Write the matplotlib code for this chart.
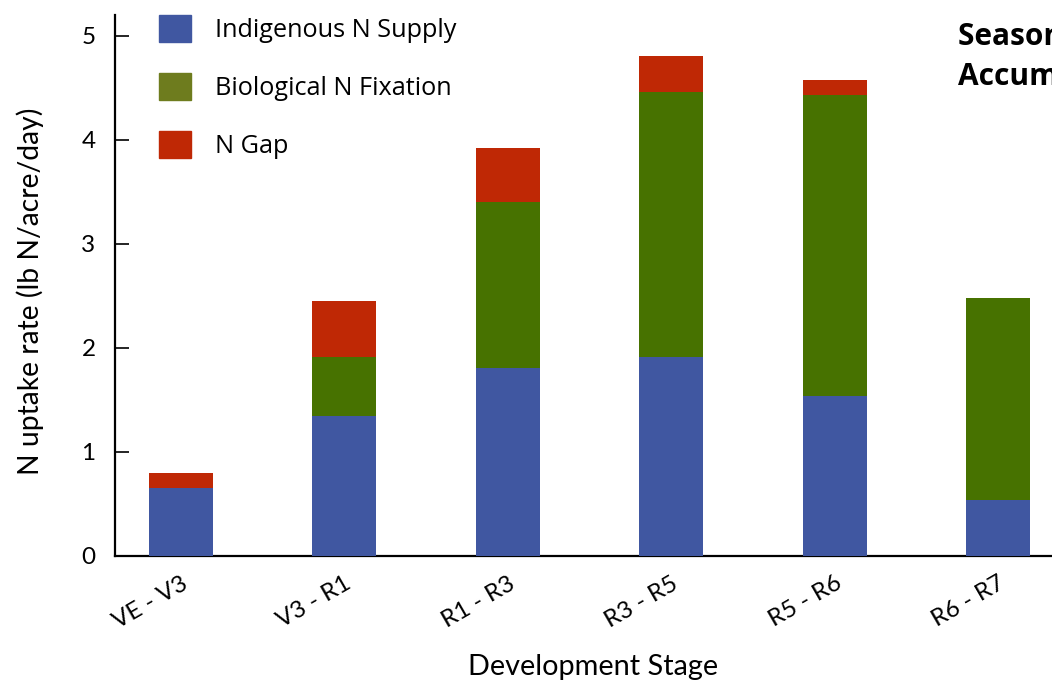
import matplotlib
matplotlib.use("Agg")
import matplotlib.pyplot as plt
from matplotlib.patches import Patch
import numpy as np

# stages and N uptake rate components (lb N/acre/day)
stages = ["VE - V3", "V3 - R1", "R1 - R3", "R3 - R5", "R5 - R6", "R6 - R7"]
indigenous = [0.65, 1.35, 1.81, 1.91, 1.54, 0.54]
fixation = [0.0, 0.56, 1.59, 2.55, 2.89, 1.94]
n_gap = [0.15, 0.54, 0.52, 0.35, 0.15, 0.0]
legend_labels = ["Indigenous N Supply", "Biological N Fixation", "N Gap"]
note_lines = ["Seasonal N", "Accumulation"]

blue = "#4057a1"
green = "#477200"
olive = "#6e7c1e"
red = "#bf2805"

plt.rcParams["font.family"] = ["Lato", "DejaVu Sans"]

fig = plt.figure(figsize=(10.52, 6.83), dpi=100)
ax = fig.add_axes([115 / 1052, 127 / 683, 1 - 115 / 1052, 541 / 683])

x = np.arange(len(stages))
w = 0.392
bottom2 = np.array(indigenous) + np.array(fixation)
ax.bar(x, indigenous, w, color=blue, zorder=1)
ax.bar(x, fixation, w, bottom=indigenous, color=green, zorder=1)
ax.bar(x, n_gap, w, bottom=bottom2, color=red, zorder=1)

ax.set_xlim(-0.404, 5.33)
ax.set_ylim(0, 5.2)
ax.set_yticks([0, 1, 2, 3, 4, 5])
ax.set_xticks(x)
ax.set_xticklabels(stages, rotation=30, ha="right", va="top", rotation_mode="anchor")

for s in ["top", "right"]:
    ax.spines[s].set_visible(False)
for s in ["left", "bottom"]:
    ax.spines[s].set_linewidth(1.6)
    ax.spines[s].set_zorder(0)
ax.tick_params(axis="y", direction="in", length=10, width=1.2, pad=14, labelsize=17.5)
ax.tick_params(axis="x", length=0, pad=12, labelsize=17.5)

fig.text(30 / 1052, 1 - 291 / 683, "N uptake rate (lb N/acre/day)", rotation=90,
         ha="center", va="center", fontsize=20.3)
fig.text(593 / 1052, 1 - 667 / 683, "Development Stage", ha="center", va="center", fontsize=20.8)

handles = [Patch(color=c) for c in (blue, olive, red)]
ax.legend(handles, legend_labels, loc="upper left", bbox_to_anchor=(44 / 937, 1.0),
          frameon=False, handlelength=1.27, handleheight=1.27,
          labelspacing=1.19, handletextpad=0.95, borderaxespad=0, borderpad=0,
          prop={"family": "Open Sans", "size": 18.2})

# side note, runs off the right edge like the original
fig.text(958 / 1052, 1 - 45 / 683, note_lines[0], ha="left", va="baseline",
         fontsize=21.5, fontweight="bold", family="Open Sans")
fig.text(958 / 1052, 1 - 85 / 683, note_lines[1], ha="left", va="baseline",
         fontsize=21.5, fontweight="bold", family="Open Sans")

fig.savefig("out.png", dpi=100)
